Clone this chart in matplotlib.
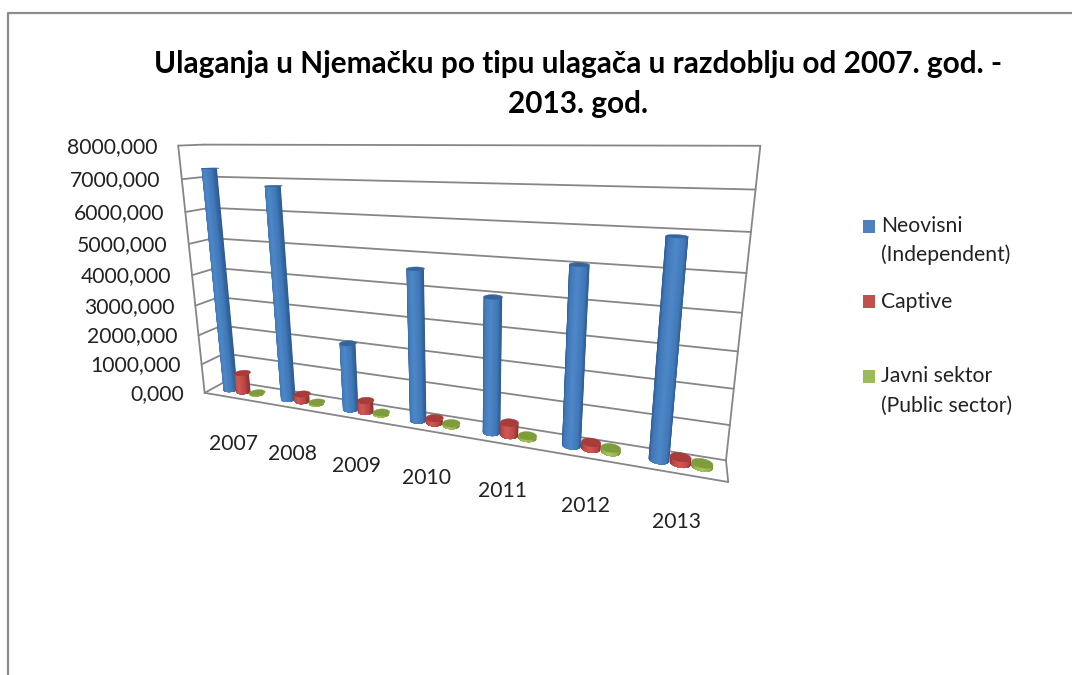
import numpy as np
import matplotlib
matplotlib.use("Agg")
import matplotlib.pyplot as plt
from matplotlib.patches import Polygon, Rectangle

# ---- data ----
years = ["2007", "2008", "2009", "2010", "2011", "2012", "2013"]
independent = [7300, 6820, 2150, 4620, 4000, 5050, 5900]
captive = [650, 240, 360, 150, 380, 180, 170]
public = [30, 40, 50, 70, 70, 110, 100]
value_ticks = [0, 1000, 2000, 3000, 4000, 5000, 6000, 7000, 8000]
title = "Ulaganja u Njemačku po tipu ulagača u razdoblju od 2007. god. -\n2013. god."
legend_rows = [("Neovisni", "(Independent)"), ("Captive", ""), ("Javni sektor", "(Public sector)")]

# ---- camera: chart box (x 0..1, depth 0..1, value 0..8000) to figure pixels ----
calib = [
    (0, 0, 0, 206, 392), (0, 0, 1000, 202, 364), (0, 0, 2000, 199, 336), (0, 0, 3000, 196, 305),
    (0, 0, 4000, 192, 275), (0, 0, 5000, 188, 244), (0, 0, 6000, 185, 212), (0, 0, 7000, 182, 179),
    (0, 0, 8000, 177, 145), (0, 1, 0, 225, 382), (0, 1, 8000, 205, 145.5), (1, 0, 0, 727, 485),
    (1, 1, 0, 726, 459), (1, 1, 1000, 730, 424), (1, 1, 2000, 734, 388), (1, 1, 3000, 738, 351),
    (1, 1, 4000, 743, 313), (1, 1, 5000, 747, 273), (1, 1, 6000, 751, 232), (1, 1, 7000, 755, 190),
    (1, 1, 8000, 760, 146),
]
A = []
for X, Y, Z, u, v in calib:
    w = [X, Y, Z / 8000, 1]
    A.append(w + [0, 0, 0, 0] + [-u * c for c in w])
    A.append([0, 0, 0, 0] + w + [-v * c for c in w])
P = np.linalg.svd(np.array(A, float))[2][-1].reshape(3, 4)


def project(X, Y, Z):
    X, Y, Z = np.broadcast_arrays(np.asarray(X, float), np.asarray(Y, float), np.asarray(Z, float))
    h = P @ np.stack([X, Y, Z / 8000, np.ones_like(X)])
    return np.stack([h[0] / h[2], h[1] / h[2]], axis=-1)


fig = plt.figure(figsize=(10.72, 6.75), dpi=100, facecolor="white")
ax = fig.add_axes([0, 0, 1, 1])
ax.set_xlim(0, 1072)
ax.set_ylim(675, 0)
ax.axis("off")
FONT = "Lato"
GREY = "#868686"
TS = 15.2

# outer chart frame
ax.plot([8, 8, 1072], [675, 13, 13], color="#8c8c8c", lw=1.6, solid_capstyle="butt")


def line(p, q, lw=1.3):
    a = project(*p)
    b = project(*q)
    ax.plot([a[0], b[0]], [a[1], b[1]], color=GREY, lw=lw, solid_capstyle="round", zorder=1)


# walls and gridlines
for v in value_ticks:
    line((0, 0, v), (0, 1, v))
    line((0, 1, v), (1, 1, v))
line((0, 0, 0), (0, 0, 8000))
line((1, 1, 0), (1, 1, 8000))
line((0, 0, 0), (1, 0, 0))
line((1, 0, 0), (1, 1, 0))

# tick labels
for v in value_ticks:
    px = project(0, 0, v)
    ax.text(px[0] - 21, px[1] + 1, f"{v},000", ha="right", va="center", fontsize=TS,
            family=FONT, color="#222222")

n = len(years)
for i, y in enumerate(years):
    px = project((i + 0.5) / n, 0, 0)
    ax.text(px[0] + 1 - 0.5 * i, px[1] + 46 + 0.4 * i, y, ha="center", va="center", fontsize=TS,
            family=FONT, color="#222222")

ax.text(578, 84, title, ha="center", va="center", fontsize=21.4, fontweight="bold",
        family=FONT, color="black", linespacing=1.53)


def mix(stops, t):
    ts = [s[0] for s in stops]
    return tuple(float(np.interp(t, ts, [s[1][k] for s in stops])) for k in range(3))


def hexrgb(h):
    return matplotlib.colors.to_rgb(h)


def cylinder(xc, value, dark, mid, light, top, zo):
    yc, rx, ry = 0.5, 0.016, 0.22
    shade = [(0, hexrgb(light)), (0.75, hexrgb(mid)), (1, hexrgb(dark))]
    steps = 16
    # nested shells of the near half of the wall, from the outer edge inwards
    for s in range(steps):
        inset = s / steps * (np.pi / 2 - 0.05)
        th = np.linspace(np.pi + inset, 2 * np.pi - inset, 41)
        xs, ys = xc + rx * np.cos(th), yc + ry * np.sin(th)
        outline = np.vstack([project(xs, ys, 0), project(xs[::-1], ys[::-1], value)])
        col = mix(shade, abs(np.cos(np.pi + inset)))
        patch = Polygon(outline, closed=True, facecolor=col, edgecolor="none", zorder=zo + s * 0.001)
        patch.set_snap(False)
        ax.add_patch(patch)
    full = np.linspace(0, 2 * np.pi, 73)
    cap = project(xc + rx * np.cos(full), yc + ry * np.sin(full), value)
    patch = Polygon(cap, closed=True, facecolor=top, edgecolor=top, lw=0.3, zorder=zo + 0.1)
    patch.set_snap(False)
    ax.add_patch(patch)


series = [
    (independent, -0.22, "#2f5e94", "#4078b8", "#5089cb", "#36659c"),
    (captive, 0.01, "#8f3432", "#bc4744", "#d25a57", "#a83c3a"),
    (public, 0.24, "#76932f", "#93b34a", "#a8c860", "#7f9c3c"),
]
for i in range(n):
    for k, (vals, off, dark, mid, light, top) in enumerate(series):
        cylinder((i + 0.5 + off) / n, vals[i], dark, mid, light, top, 3 + i + k * 0.2)

# legend
leg_y = [226, 301.5, 376.5]
leg_col = ["#4f81bd", "#c0504d", "#9bbb59"]
for yy, col, rows in zip(leg_y, leg_col, legend_rows):
    ax.add_patch(Rectangle((863, yy - 6.5), 12, 13, facecolor=col, edgecolor="none"))
    ax.text(881, yy, rows[0], ha="left", va="center", fontsize=TS, family=FONT, color="#222222")
    if rows[1]:
        ax.text(881, yy + 29, rows[1], ha="left", va="center", fontsize=TS, family=FONT, color="#222222")

fig.savefig("out.png", dpi=100, facecolor="white")
